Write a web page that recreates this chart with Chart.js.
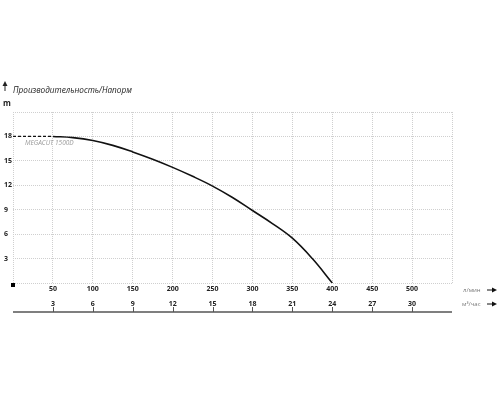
<!DOCTYPE html>
<html>
<head>
<meta charset="utf-8">
<script src="https://cdn.jsdelivr.net/npm/chart.js@4/dist/chart.umd.min.js"></script>
<style>
  html, body { margin: 0; padding: 0; background: #fff; }
  #wrap { width: 500px; height: 400px; }
</style>
</head>
<body>
<div id="wrap"><canvas id="pumpChart" width="500" height="400"></canvas></div>
<script>
// л/мин vs м (head)
const flowDashed = [0, 25, 50];
const headDashed = [18, 18, 18];
const flow = [50, 75, 100, 125, 150, 175, 200, 225, 250, 275, 300, 325, 350, 375, 400];
const head = [18, 17.85, 17.5, 16.9, 16.1, 15.2, 14.2, 13.1, 11.9, 10.5, 8.9, 7.3, 5.5, 3.0, 0];

const xTicks = [50, 100, 150, 200, 250, 300, 350, 400, 450, 500];   // л/мин
const x2Ticks = [3, 6, 9, 12, 15, 18, 21, 24, 27, 30];              // м³/час
const yTicks = [3, 6, 9, 12, 15, 18];

const seriesName = 'MEGACUT 1500D';
const titleText = 'Производительность/Напорм';

const FONT = '"Open Sans", "DejaVu Sans", sans-serif';
const gridColor = '#cfcfcf';

function arrowRight(ctx, x, y) {
  ctx.beginPath();
  ctx.moveTo(x, y);
  ctx.lineTo(x + 6, y);
  ctx.stroke();
  ctx.beginPath();
  ctx.moveTo(x + 10, y);
  ctx.lineTo(x + 5, y - 2.5);
  ctx.lineTo(x + 5, y + 2.5);
  ctx.closePath();
  ctx.fill();
}

const decorPlugin = {
  id: 'decor',
  afterDraw(chart) {
    const ctx = chart.ctx;
    const xs = chart.scales.x, ys = chart.scales.y, x2 = chart.scales.x2;
    const area = chart.chartArea;
    ctx.save();

    // title + up arrow
    ctx.fillStyle = '#222';
    ctx.strokeStyle = '#222';
    ctx.lineWidth = 1;
    ctx.beginPath();
    ctx.moveTo(5, 91);
    ctx.lineTo(5, 85);
    ctx.stroke();
    ctx.beginPath();
    ctx.moveTo(5, 81);
    ctx.lineTo(2.5, 86);
    ctx.lineTo(7.5, 86);
    ctx.closePath();
    ctx.fill();

    ctx.font = 'italic 8.2px ' + FONT;
    ctx.textBaseline = 'middle';
    ctx.textAlign = 'left';
    ctx.fillText(titleText, 13, 91);

    ctx.font = 'bold 8px ' + FONT;
    ctx.fillText('m', 3, 104);

    // series name
    ctx.fillStyle = '#9a9a9a';
    ctx.font = 'italic 6.5px ' + FONT;
    ctx.fillText(seriesName, 25, 143);

    // origin marker
    ctx.fillStyle = '#000';
    ctx.fillRect(xs.getPixelForValue(0) - 2, ys.getPixelForValue(0), 4, 4);

    // bottom axis line with ticks for м³/час
    const yLine = x2.bottom;
    ctx.strokeStyle = '#555';
    ctx.lineWidth = 1.5;
    ctx.beginPath();
    ctx.moveTo(area.left, yLine);
    ctx.lineTo(area.right, yLine);
    ctx.stroke();
    ctx.lineWidth = 1;
    x2Ticks.forEach(v => {
      const px = Math.round(x2.getPixelForValue(v)) + 0.5;
      ctx.beginPath();
      ctx.moveTo(px, yLine - 5);
      ctx.lineTo(px, yLine);
      ctx.stroke();
    });

    // unit labels
    ctx.fillStyle = '#777';
    ctx.font = '6px ' + FONT;
    ctx.fillText('л/мин', 463, xs.top + 7);
    ctx.fillText('м³/час', 462, x2.top + 7);
    ctx.fillStyle = '#111';
    ctx.strokeStyle = '#111';
    arrowRight(ctx, 487, xs.top + 7);
    arrowRight(ctx, 487, x2.top + 7);

    ctx.restore();
  }
};

new Chart(document.getElementById('pumpChart'), {
  type: 'scatter',
  data: {
    datasets: [
      {
        label: seriesName + ' dashed',
        data: flowDashed.map((f, i) => ({ x: f, y: headDashed[i] })),
        showLine: true,
        borderColor: '#111',
        borderWidth: 1.3,
        borderDash: [3, 2],
        pointRadius: 0
      },
      {
        label: seriesName,
        data: flow.map((f, i) => ({ x: f, y: head[i] })),
        showLine: true,
        borderColor: '#111',
        borderWidth: 1.6,
        tension: 0.4,
        pointRadius: 0
      }
    ]
  },
  options: {
    responsive: false,
    animation: false,
    layout: { padding: { top: 112, bottom: 88, left: 4, right: 48 } },
    plugins: { legend: { display: false }, tooltip: { enabled: false } },
    scales: {
      x: {
        type: 'linear',
        position: 'bottom',
        weight: 1,
        min: 0, max: 550,
        afterBuildTicks: s => { s.ticks = [0].concat(xTicks, [550]).map(v => ({ value: v })); },
        afterFit: s => { s.height = 14; },
        grid: { color: gridColor, lineWidth: 1, drawTicks: false },
        border: { display: false, dash: [1, 1] },
        ticks: {
          padding: 2,
          color: '#222',
          font: { family: FONT, size: 7, weight: 'bold' },
          maxRotation: 0,
          callback: v => (xTicks.includes(v) ? String(v) : '')
        }
      },
      x2: {
        type: 'linear',
        position: 'bottom',
        weight: 2,
        min: 0, max: 33,
        afterBuildTicks: s => { s.ticks = x2Ticks.map(v => ({ value: v })); },
        afterFit: s => { s.height = 15; },
        grid: { display: false, drawTicks: false },
        border: { display: false },
        ticks: {
          padding: 3,
          color: '#222',
          font: { family: FONT, size: 7, weight: 'bold' },
          maxRotation: 0
        }
      },
      y: {
        type: 'linear',
        position: 'left',
        min: 0, max: 21,
        afterBuildTicks: s => { s.ticks = [0].concat(yTicks, [21]).map(v => ({ value: v })); },
        afterFit: s => { s.width = 9; },
        grid: { color: gridColor, lineWidth: 1, drawTicks: false },
        border: { display: false, dash: [1, 1] },
        ticks: {
          crossAlign: 'far',
          padding: 0,
          color: '#222',
          font: { family: FONT, size: 7, weight: 'bold' },
          callback: v => (yTicks.includes(v) ? String(v) : '')
        }
      }
    }
  },
  plugins: [decorPlugin]
});
</script>
</body>
</html>
